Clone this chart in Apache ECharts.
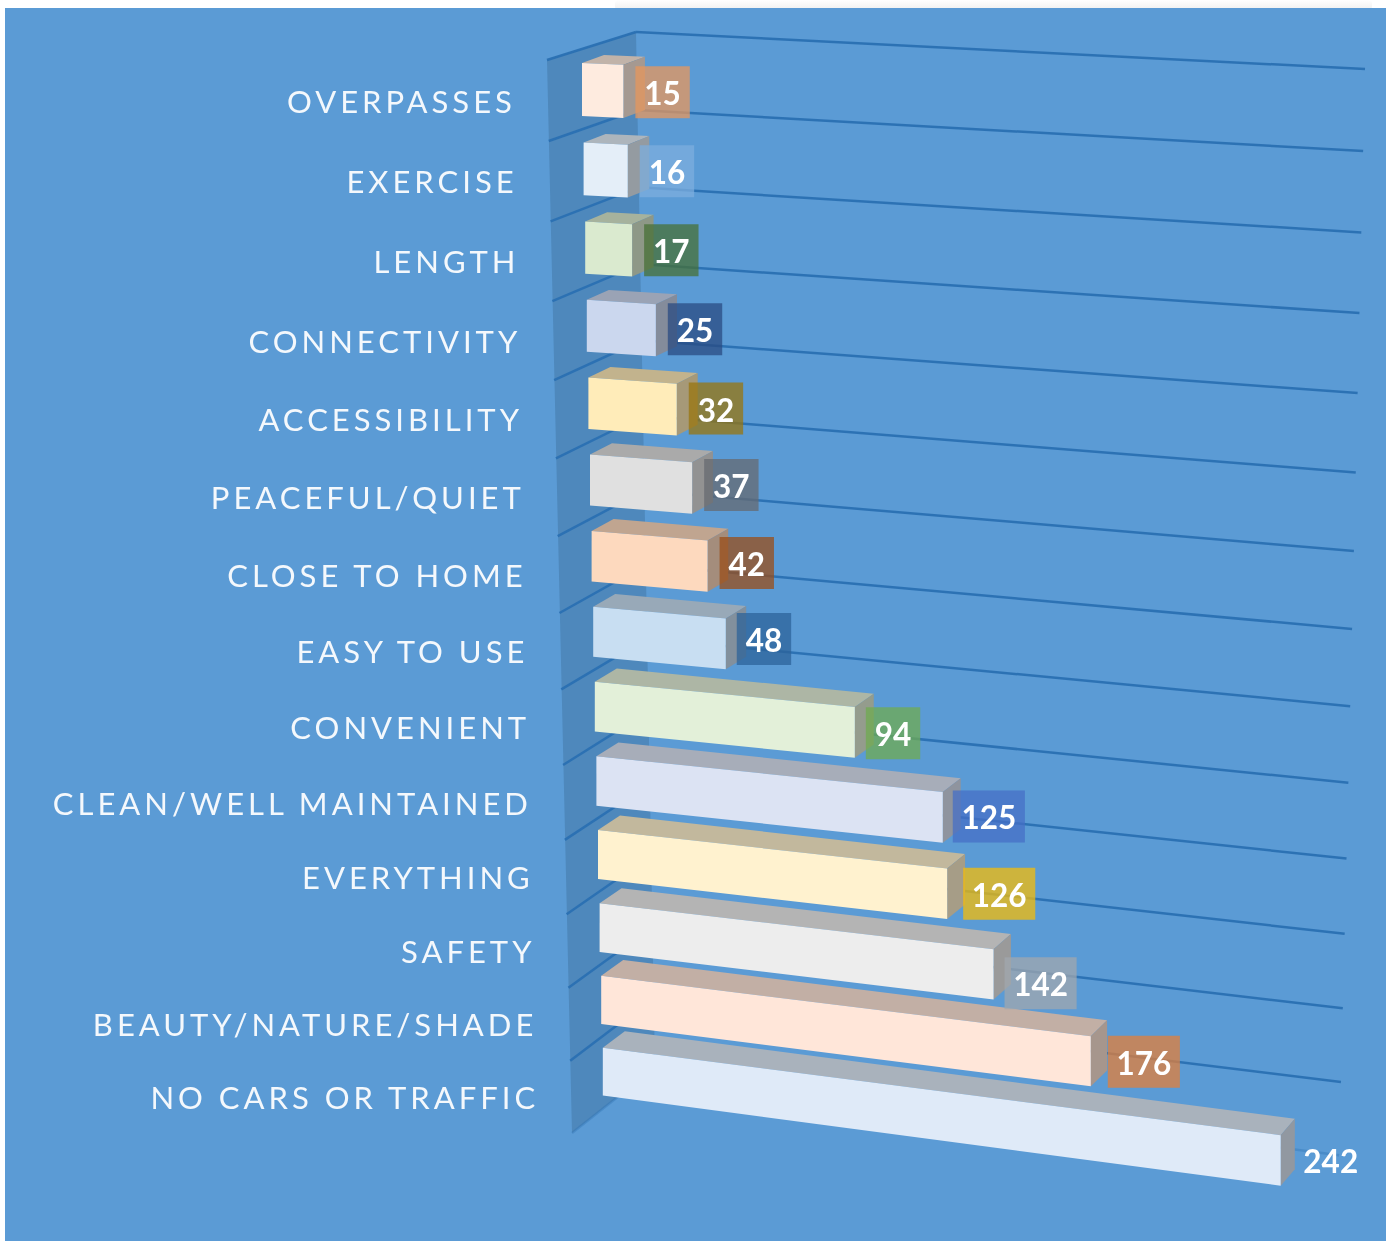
<!DOCTYPE html>
<html><head><meta charset="utf-8">
<style>
html,body{margin:0;padding:0;background:#fff;overflow:hidden}
#chart{width:1390px;height:1241px;filter:blur(.45px)}
#chart text[style*="31px"]{letter-spacing:4px}
</style>
<script src="https://cdn.jsdelivr.net/npm/echarts@6/dist/echarts.min.js"></script>
</head><body><div id="chart"></div>
<script>
const categories=['OVERPASSES','EXERCISE','LENGTH','CONNECTIVITY','ACCESSIBILITY','PEACEFUL/QUIET','CLOSE TO HOME','EASY TO USE','CONVENIENT','CLEAN/WELL MAINTAINED','EVERYTHING','SAFETY','BEAUTY/NATURE/SHADE','NO CARS OR TRAFFIC'];
const values=[15,16,17,25,32,37,42,48,94,125,126,142,176,242];
const frontColors=['#FEEBDF','#E4EEF8','#DAEACF','#CBD7EE','#FFECB9','#E0E0E0','#FDD9BE','#C8DEF2','#E3F0D9','#DCE3F3','#FFF2CF','#EDEDED','#FFE6D9','#DFEAF8'];
const labelTargets=['#C4987A','#74A9DB','#4C7B5E','#365F96','#897F40','#637689','#8A6147','#3871A8','#6AA771','#4B7AC9','#CDB43D','#8FA4B7','#C08660',null];
const labelNudgeX=[1,1,1,1,1,1,1,0,0,-1,5,0,6,3];
const labelNudgeY=[1,0,0,-1,-1,-3,-3,-5,1,-1,0,9,.5,0];

const BG='#5B9BD5',LINE='#2A70B2',WALL='#4E88BC',AXIS_MAX=260;
const hex=c=>[1,3,5].map(k=>parseInt(c.slice(k,k+2),16));
const shade=(c,f)=>'rgb('+hex(c).map(v=>Math.round(v*f)).join(',')+')';
function overBg(target){const a=.75,b=hex(BG),t=hex(target);
  return 'rgba('+t.map((v,k)=>Math.max(0,Math.round((v-(1-a)*b[k])/a))).join(',')+','+a+')';}

// Chart-box perspective: t is a row boundary position (0..14), i a row index.
const wallFront=t=>[547+25*t/14,60+81.36*t-.337*t*t];
const wallBack=t=>[636+19*t/14,32+78.3*t-.31*t*t];
const lineEnd=t=>[1365-1.85*t,69+82.4*t-.344*t*t];
function onBack(t,f){const a=wallBack(t),b=lineEnd(t);return [a[0]+f*(b[0]-a[0]),a[1]+f*(b[1]-a[1])];}
const stretch=dx=>dx+3.35e-8*dx*dx*dx;
function barFront(i,dx,lower){
  const x=582+1.6*i+stretch(dx);
  const top=63+79.9*i-.319*i*i+(.0425+.0068*i)*dx;
  return lower?[x,top+53-.4*i+.004*dx]:[x,top];
}
const depth=(i,dx)=>[22-.0118*dx,-(8+.65*i)];
const back=(p,i,dx)=>{const o=depth(i,dx);return [p[0]+o[0],p[1]+o[1]];};

function rowOf(api,params,i){const c=params.coordSys;return (api.coord([0,i])[1]-c.y)/(c.height/categories.length)-.5;}

function renderFrame(params,api){
  const i=api.value(1),t=rowOf(api,params,i),kids=[];
  const link=(t,op)=>{
    kids.push({type:'polyline',shape:{points:[wallFront(t),wallBack(t)]},style:{stroke:LINE,lineWidth:2.5,fill:null,opacity:op}});
    kids.push({type:'polyline',shape:{points:[onBack(t,0),onBack(t,1)]},style:{stroke:LINE,lineWidth:2.5,fill:null,opacity:op}});
  };
  if(i===0)kids.push({type:'polygon',shape:{points:[wallFront(0),wallBack(0),wallBack(categories.length),wallFront(categories.length)]},style:{fill:WALL}});
  link(t,.95);
  if(i===categories.length-1)link(t+1,.35);
  return {type:'group',children:kids};
}
function renderBar(params,api){
  const i=api.value(1),r=rowOf(api,params,i);
  const dx=api.coord([api.value(0),i])[0]-api.coord([0,i])[0];
  const TL=barFront(r,0,false),TR=barFront(r,dx,false),BR=barFront(r,dx,true),BL=barFront(r,0,true);
  const c=frontColors[i];
  const kids=[
    {type:'polygon',shape:{points:[TL,back(TL,r,0),back(TR,r,dx),TR]},style:{fill:shade(c,.76)}},
    {type:'polygon',shape:{points:[TR,back(TR,r,dx),back(BR,r,dx),BR]},style:{fill:shade(c,.65)}},
    {type:'polygon',shape:{points:[TL,TR,BR,BL]},style:{fill:c}}
  ];
  return {type:'group',children:kids};
}
function renderValue(params,api){
  const i=api.value(1),v=api.value(0),r=rowOf(api,params,i);
  const dx=api.coord([v,i])[0]-api.coord([0,i])[0];
  const TR=barFront(r,dx,false),BR=barFront(r,dx,true),txt=String(v);
  const w=19+17.7*txt.length,h=52;
  const x=BR[0]+11+labelNudgeX[i],cy=(TR[1]+BR[1])/2+labelNudgeY[i];
  const kids=[];
  if(labelTargets[i])kids.push({type:'rect',shape:{x:x,y:cy-h/2,width:w,height:h},style:{fill:overBg(labelTargets[i])}});
  kids.push({type:'text',style:{text:txt,x:x+w/2,y:cy+1,align:'center',verticalAlign:'middle',font:'bold 31.5px Lato',fill:'#fff'}});
  return {type:'group',children:kids};
}
function renderCategory(params,api){
  const i=api.value(1),r=rowOf(api,params,i),f=wallFront(r+.5);
  return {type:'text',style:{text:categories[i],x:f[0]-32,y:f[1],align:'right',verticalAlign:'middle',font:'31px Lato',fill:'#F4F8FC'}};
}

const rows=values.map((v,i)=>[v,i]);
const custom=(fn,z)=>({type:'custom',renderItem:fn,data:rows,z:z,silent:true,animation:false,clip:false,encode:{x:0,y:1}});
const chart=echarts.init(document.getElementById('chart'),null,{renderer:'svg',width:1390,height:1241});
chart.setOption({
  animation:false,
  backgroundColor:'#fff',
  graphic:[
    {type:'rect',z:-10,shape:{x:615,y:0,width:757,height:10,r:4},style:{fill:{type:'linear',x:0,y:0,x2:0,y2:1,colorStops:[{offset:0,color:'#fff'},{offset:1,color:'#EFEFEF'}]}}},
    {type:'rect',z:-9,shape:{x:5,y:8,width:1381,height:1233},style:{fill:BG}}
  ],
  grid:{left:582,top:60,width:2.76*AXIS_MAX,height:1073,containLabel:false},
  xAxis:{type:'value',min:0,max:AXIS_MAX,show:false},
  yAxis:{type:'category',inverse:true,data:categories,show:false},
  series:[custom(renderFrame,1),custom(renderBar,2),custom(renderValue,3),custom(renderCategory,3)]
});
</script></body></html>
